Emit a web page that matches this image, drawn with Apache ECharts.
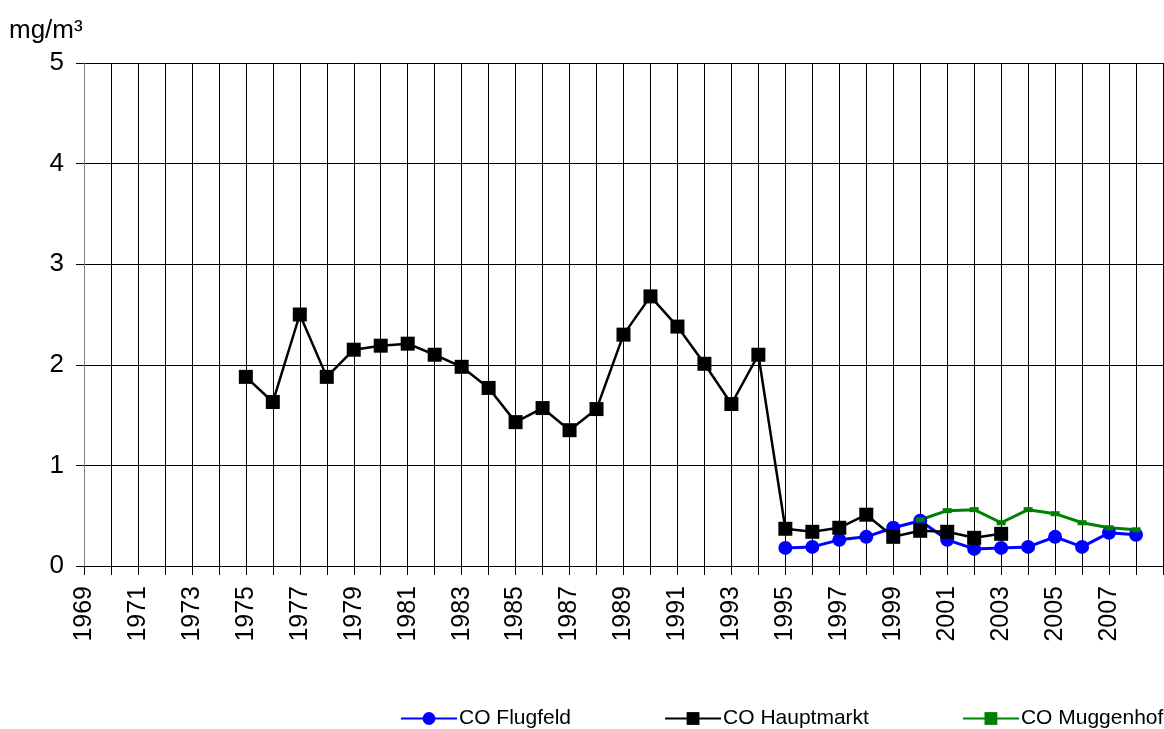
<!DOCTYPE html>
<html>
<head>
    <meta charset="UTF-8">
    <title>CO</title>
    <script type="text/javascript" src="https://cdn.jsdelivr.net/npm/echarts@6/dist/echarts.min.js"></script>
</head>
<body style="margin:0;background:#fff">
<div id="main" style="width:1164px;height:729px;"></div>
<script type="text/javascript">
    // Jahresmittel CO, mg/m³
    var firstYear = 1969;
    var lastYear = 2009;   // rechter Rand der Achse, ohne Beschriftung
    var yTicks = [0, 1, 2, 3, 4, 5];

    var flugfeldStart = 1995;
    var flugfeld = [0.18, 0.19, 0.26, 0.29, 0.38, 0.45, 0.26, 0.17, 0.18, 0.19, 0.29, 0.19, 0.33, 0.31];

    var hauptmarktStart = 1975;
    var hauptmarkt = [1.88, 1.63, 2.50, 1.88, 2.15, 2.19, 2.21, 2.10, 1.98, 1.77,
                      1.43, 1.57, 1.35, 1.56, 2.30, 2.68, 2.38, 2.01, 1.61, 2.10,
                      0.37, 0.34, 0.38, 0.51, 0.29, 0.35, 0.34, 0.28, 0.32];

    var muggenhofStart = 2000;
    var muggenhof = [0.46, 0.55, 0.56, 0.43, 0.56, 0.52, 0.43, 0.38, 0.36];

    // [jahr, wert] Paare bauen
    function pairs(start, values) {
        return values.map(function (v, i) { return [start + i, v]; });
    }

    var font = '"Liberation Sans", Arial, sans-serif';
    var myChart = echarts.init(document.getElementById('main'));
    var option = {
        animation: false,
        title: {
            text: 'mg/m³',
            left: 9,
            top: 18,
            padding: 0,
            textStyle: { fontFamily: font, fontSize: 26, fontWeight: 'normal', color: '#000' }
        },
        legend: {
            left: 400,
            top: 708,
            padding: 0,
            itemWidth: 56,
            itemHeight: 16,
            itemGap: 93,
            textStyle: { fontFamily: font, fontSize: 21, color: '#000', padding: [0, 0, 0, -3] },
            data: ['CO Flugfeld', 'CO Hauptmarkt', 'CO Muggenhof']
        },
        grid: { left: 84, right: 1, top: 63, bottom: 163, containLabel: false },
        xAxis: {
            type: 'value',
            min: firstYear,
            max: lastYear,
            interval: 1,
            axisLine: { lineStyle: { color: '#000', width: 1 } },
            axisTick: { show: true, length: 9, lineStyle: { color: '#000' } },
            splitLine: { show: true, lineStyle: { color: '#000', width: 1 } },
            axisLabel: {
                rotate: 90,
                margin: 20,
                fontFamily: font,
                fontSize: 25,
                color: '#000',
                formatter: function (v) {
                    return ((v - firstYear) % 2 === 0 && v < lastYear) ? String(v) : '';
                }
            }
        },
        yAxis: {
            type: 'value',
            min: yTicks[0],
            max: yTicks[yTicks.length - 1],
            interval: 1,
            axisLine: { show: true, lineStyle: { color: '#808080', width: 1 } },
            axisTick: { show: true, length: 8, lineStyle: { color: '#000' } },
            splitLine: { show: true, lineStyle: { color: '#000', width: 1 } },
            axisLabel: { margin: 20, fontFamily: font, fontSize: 26, color: '#000' }
        },
        series: [
            {
                name: 'CO Flugfeld',
                type: 'line',
                data: pairs(flugfeldStart, flugfeld),
                symbol: 'circle',
                symbolSize: 14,
                lineStyle: { color: '#0000ff', width: 3 },
                itemStyle: { color: '#0000ff' }
            },
            {
                name: 'CO Hauptmarkt',
                type: 'line',
                data: pairs(hauptmarktStart, hauptmarkt),
                symbol: 'rect',
                symbolSize: 14,
                lineStyle: { color: '#000', width: 2.5 },
                itemStyle: { color: '#000' }
            },
            {
                name: 'CO Muggenhof',
                type: 'line',
                data: pairs(muggenhofStart, muggenhof),
                symbol: 'rect',
                symbolSize: [9, 5],
                lineStyle: { color: '#008000', width: 3 },
                itemStyle: { color: '#008000' }
            }
        ]
    };
    myChart.setOption(option);
</script>
</body>
</html>
